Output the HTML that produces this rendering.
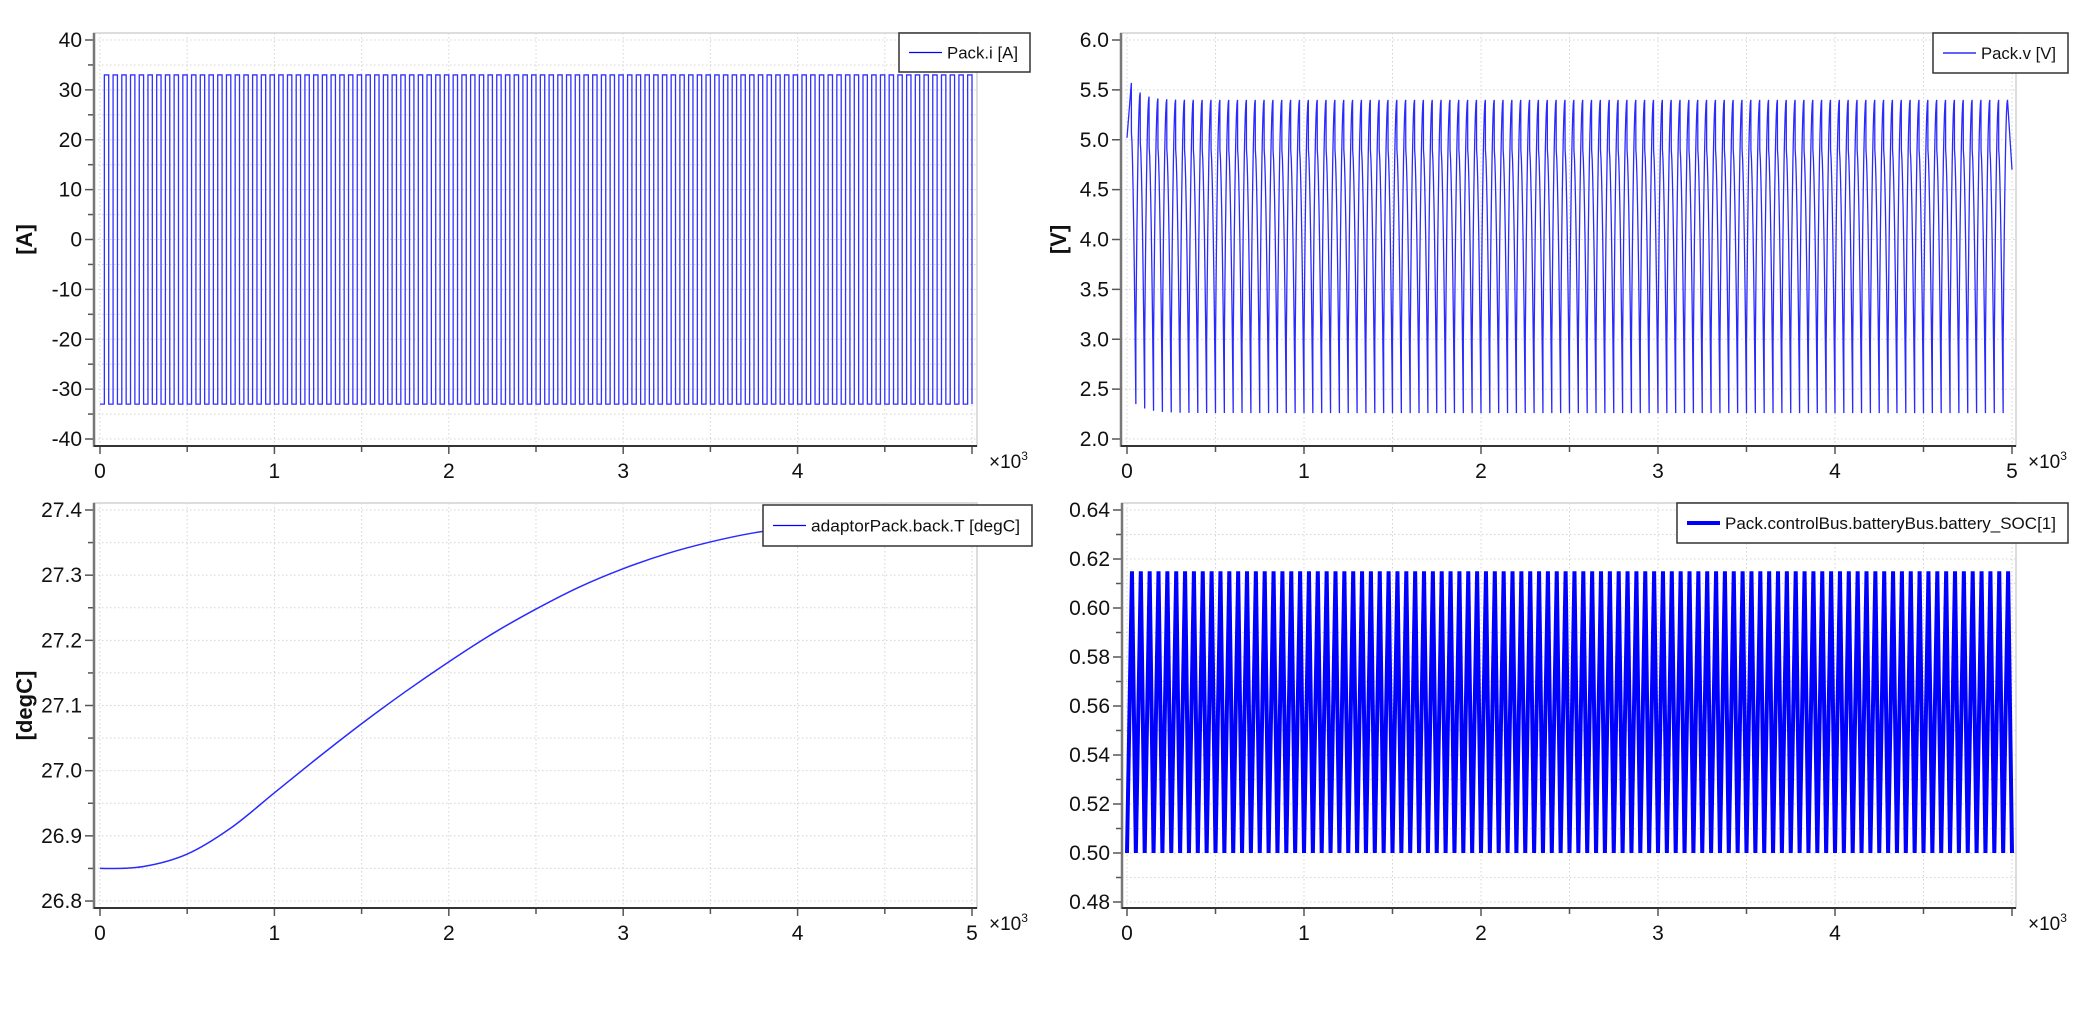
<!DOCTYPE html>
<html><head><meta charset="utf-8"><style>
html,body{margin:0;padding:0;background:#fff;}
svg{display:block;font-family:"Liberation Sans",sans-serif;}
</style></head><body>
<svg id="s" width="2099" height="1012" xmlns="http://www.w3.org/2000/svg"></svg>
<script>
const S=document.getElementById('s');let h='';
function axes(o){
 const {L,R,T,B,x0,xs,y2p,ymaj,ymin,ylabel,yfmt,xmaxT,showX5}=o;
 h+=`<rect x="${L}" y="${T}" width="${R-L}" height="${B-T}" fill="#fff" stroke="#ddd" stroke-width="2"/>`;
 for(let t=0;t<=xmaxT+1;t+=500){const x=x0+t*xs;if(x>R)break;h+=`<line x1="${x}" y1="${T}" x2="${x}" y2="${B}" stroke="#d4d4d4" stroke-dasharray="1.5,2.5"/>`;
  const maj=t%1000==0;h+=`<line x1="${x}" y1="${B}" x2="${x}" y2="${B+(maj?8:6)}" stroke="#555" stroke-width="1.5"/>`;
  if(maj&&(t<5000||showX5))h+=`<text x="${x}" y="${B+32}" font-size="21" text-anchor="middle" fill="#111">${t/1000}</text>`;}
 for(const v of ymin){const y=y2p(v);h+=`<line x1="${L}" y1="${y}" x2="${R}" y2="${y}" stroke="#d4d4d4" stroke-dasharray="1.5,2.5"/><line x1="${L-6}" y1="${y}" x2="${L}" y2="${y}" stroke="#555" stroke-width="1.5"/>`;}
 for(const v of ymaj){const y=y2p(v);h+=`<line x1="${L}" y1="${y}" x2="${R}" y2="${y}" stroke="#d4d4d4" stroke-dasharray="1.5,2.5"/><line x1="${L-9}" y1="${y}" x2="${L}" y2="${y}" stroke="#555" stroke-width="1.5"/><text x="${L-12}" y="${y+7}" font-size="21" text-anchor="end" fill="#111">${yfmt(v)}</text>`;}
 h+=`<line x1="${L}" y1="${T}" x2="${L}" y2="${B+1}" stroke="#777" stroke-width="2.5"/><line x1="${L}" y1="${B}" x2="${R}" y2="${B}" stroke="#333" stroke-width="2"/>`;
 h+=`<text x="${R+12}" y="${B+22}" font-size="19" fill="#111">×10<tspan font-size="12" dy="-8">3</tspan></text>`;
 if(ylabel)h+=`<text transform="translate(${o.ylx},${(T+B)/2}) rotate(-90)" font-size="22" font-weight="bold" text-anchor="middle" fill="#111">${ylabel}</text>`;
}
function legend(x1,y1,x2,y2,txt,w){h+=`<rect x="${x1}" y="${y1}" width="${x2-x1}" height="${y2-y1}" fill="#fff" stroke="#333" stroke-width="1.5"/><line x1="${x1+10}" y1="${(y1+y2)/2}" x2="${x1+43}" y2="${(y1+y2)/2}" stroke="#0000ff" stroke-width="${w}"/><text x="${x1+48}" y="${(y1+y2)/2+6}" font-size="17" fill="#111" textLength="${x2-x1-60}" lengthAdjust="spacingAndGlyphs">${txt}</text>`;}
function rng(a,b,s){const r=[];for(let v=a;v<=b+1e-9;v+=s)r.push(+v.toFixed(4));return r;}
{const L=94,R=977,T=33,B=446,x0=100,xs=0.1744,y2p=v=>239.5-v*4.9875;
 axes({L,R,T,B,x0,xs,y2p,ymaj:rng(-40,40,10),ymin:rng(-35,35,10),ylabel:'[A]',ylx:32,yfmt:v=>v,xmaxT:5000});
 let p=`M${x0},${y2p(-33)}`;for(let k=0;k<100;k++){const a=x0+(k*50+25)*xs,b=x0+(k*50+50)*xs;p+=`H${a.toFixed(2)}V${y2p(33)}H${b.toFixed(2)}V${y2p(-33)}`;}
 h+=`<path d="${p}" fill="none" stroke="#3030ff" stroke-width="1.3"/>`;legend(899,33,1030,72,'Pack.i [A]',1.3);}
{const L=1121,R=2016,T=33,B=446,x0=1127,xs=0.177,y2p=v=>40+(6-v)*99.75;
 axes({L,R,T,B,x0,xs,y2p,ymaj:rng(2,6,0.5),ymin:[],ylabel:'[V]',ylx:1066,yfmt:v=>v.toFixed(1),xmaxT:5000,showX5:true});
 let pts=[];const X=t=>(x0+t*xs).toFixed(2);
 for(let k=0;k<100;k++){const t0=k*50;const Vp=5.4+0.17*Math.exp(-k/1.2),Vl=2.26+0.09*Math.exp(-k/1.5);const Vs=k==0?5.02:2.26+0.09*Math.exp(-(k-1)/1.5);
  const n=8;for(let i=0;i<=n;i++){const s=i/n;const v=k==0?Vs+(Vp-Vs)*s:Vs+0.7+(Vp-Vs-0.7)*(1-Math.pow(1-s,2));if(i==0&&k>0)pts.push(X(t0)+','+y2p(Vs));pts.push(X(t0+25*s*0.98)+','+y2p(v));}
  if(k==99){pts.push(X(5000)+','+y2p(4.7));break;}
  for(let i=0;i<=n;i++){const s=i/n;const v=Vp-0.5-(Vp-0.5-Vl)*Math.pow(s,1.6);pts.push(X(t0+25+25*s)+','+y2p(v));}}
 h+=`<polyline points="${pts.join(' ')}" fill="none" stroke="#2a2aff" stroke-width="1.3"/>`;legend(1933,33,2068,73,'Pack.v [V]',1.3);}
{const L=94,R=977,T=503,B=908,x0=100,xs=0.1744,y2p=v=>510+(27.4-v)*651.7;
 axes({L,R,T,B,x0,xs,y2p,ymaj:rng(26.8,27.4,0.1),ymin:rng(26.85,27.35,0.1),ylabel:'[degC]',ylx:32,yfmt:v=>v.toFixed(1),xmaxT:5000,showX5:true});
 const d=[[0,26.85],[250,26.853],[500,26.872],[750,26.912],[1000,26.966],[1250,27.02],[1500,27.072],[1750,27.121],[2000,27.167],[2250,27.21],[2500,27.248],[2750,27.282],[3000,27.31],[3250,27.333],[3500,27.351],[3750,27.365],[4000,27.374],[4250,27.381],[4500,27.385],[4750,27.387],[5000,27.388]];
 const P=d.map(q=>[x0+q[0]*xs,y2p(q[1])]);
 let path=`M${P[0][0]},${P[0][1]}`;
 for(let i=0;i<P.length-1;i++){const p0=i==0?[2*P[0][0]-P[1][0],P[1][1]]:P[i-1],p1=P[i],p2=P[i+1],p3=P[Math.min(i+2,P.length-1)];
  const c1=[p1[0]+(p2[0]-p0[0])/6,p1[1]+(p2[1]-p0[1])/6],c2=[p2[0]-(p3[0]-p1[0])/6,p2[1]-(p3[1]-p1[1])/6];
  path+=`C${c1[0].toFixed(2)},${c1[1].toFixed(2)} ${c2[0].toFixed(2)},${c2[1].toFixed(2)} ${p2[0].toFixed(2)},${p2[1].toFixed(2)}`;}
 h+=`<path d="${path}" fill="none" stroke="#2a2aff" stroke-width="1.5"/>`;
 legend(763,505,1032,546,'adaptorPack.back.T [degC]',1.3);}
{const L=1122,R=2016,T=503,B=908,x0=1127,xs=0.177,y2p=v=>510+(0.64-v)*2450;
 axes({L,R,T,B,x0,xs,y2p,ymaj:rng(0.48,0.64,0.02),ymin:rng(0.49,0.63,0.02),ylabel:'',yfmt:v=>v.toFixed(2),xmaxT:4999,showX5:false});
 let pts=[];for(let k=0;k<100;k++){const t0=k*50;pts.push((x0+t0*xs).toFixed(2)+','+y2p(0.5));pts.push((x0+(t0+28)*xs).toFixed(2)+','+y2p(0.615));}
 pts.push((x0+5000*xs).toFixed(2)+','+y2p(0.5));
 h+=`<polyline points="${pts.join(' ')}" fill="none" stroke="#0000ff" stroke-width="4" stroke-linejoin="miter"/>`;
 legend(1677,503,2068,543,'Pack.controlBus.batteryBus.battery_SOC[1]',4);}
S.innerHTML=h;
</script>
</body></html>
